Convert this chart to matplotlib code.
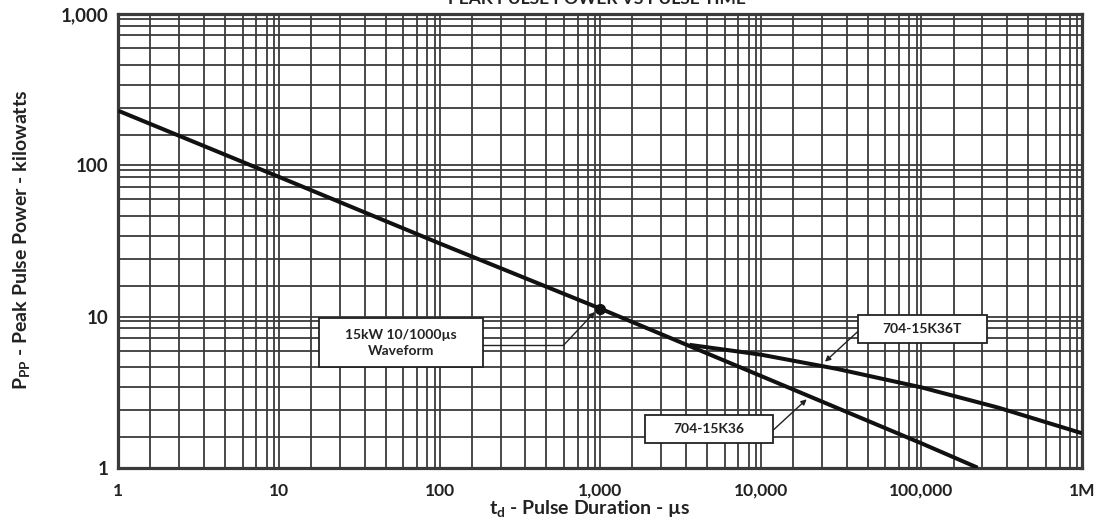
import numpy as np
import matplotlib
matplotlib.use("Agg")
import matplotlib.pyplot as plt
from matplotlib.patches import Rectangle

plt.rcParams['font.family'] = ['Lato', 'DejaVu Sans']
plt.rcParams['font.weight'] = 'bold'

# ---- data ----
x_main = [1, 10, 100, 1000, 10000, 100000, 224000]
y_main = [230, 84, 30.5, 11.3, 4.05, 1.45, 1.0]

x_t = [3600, 10000, 30000, 100000, 300000, 1000000]
y_t = [6.5, 5.6, 4.5, 3.4, 2.5, 1.69]

waveform_point = (1000, 11.3)

x_ticks = [1, 10, 100, 1000, 10000, 100000, 1000000]
x_ticklabels = ["1", "10", "100", "1,000", "10,000", "100,000", "1M"]
y_ticks = [1, 10, 100, 1000]
y_ticklabels = ["1", "10", "100", "1,000"]

# grid fractions within a decade (log units) as drawn on the reference paper
grid_frac = [0.2, 0.38, 0.535, 0.665, 0.775, 0.86, 0.925, 0.97]

W, H = 1096, 525
fig = plt.figure(figsize=(W / 100, H / 100), dpi=100)
ax_l, ax_r, ax_t, ax_b = 118.3, 1082.0, 14.3, 467.7
ax = fig.add_axes([ax_l / W, 1 - ax_b / H, (ax_r - ax_l) / W, (ax_b - ax_t) / H])
ax.set_xscale('log')
ax.set_yscale('log')
ax.set_xlim(1, 1e6)
ax.set_ylim(1, 1000)

gc = '#3a3a3a'
xminor = [10 ** (d + f) for d in range(6) for f in grid_frac]
yminor = [10 ** (d + f) for d in range(3) for f in grid_frac]
ax.set_xticks(x_ticks)
ax.set_xticklabels(x_ticklabels)
ax.set_yticks(y_ticks)
ax.set_yticklabels(y_ticklabels)
ax.set_xticks(xminor, minor=True)
ax.set_yticks(yminor, minor=True)
ax.tick_params(which='both', length=0)
ax.tick_params(axis='x', which='major', pad=11, labelsize=12.5)
ax.tick_params(axis='y', which='major', pad=7, labelsize=13.5)
for lab in ax.get_xticklabels() + ax.get_yticklabels():
    lab.set_fontweight('bold')
    lab.set_color('#222222')
ax.grid(True, which='both', color=gc, lw=1.3)
ax.set_axisbelow(True)
for s in ax.spines.values():
    s.set_color(gc)
    s.set_linewidth(2.3)

ax.plot(x_main, y_main, color='#111111', lw=2.9, solid_capstyle='butt', zorder=3, clip_on=True)
ax.plot(x_t, y_t, color='#111111', lw=2.9, solid_capstyle='butt', zorder=3, clip_on=True)
ax.plot([waveform_point[0]], [waveform_point[1]], 'o', color='#111111', ms=7, zorder=4)

# boxes (axes fraction)
def box(x0, y0, w, h, text, fs):
    ax.add_patch(Rectangle((x0, y0), w, h, transform=ax.transAxes, facecolor='white',
                           edgecolor='#222222', lw=1.3, zorder=5))
    ax.text(x0 + w / 2, y0 + h / 2, text, transform=ax.transAxes, ha='center', va='center',
            fontsize=fs, fontweight='bold', color='#222222', zorder=6, linespacing=1.4)

box(0.2086, 0.2214, 0.1702, 0.1081, "15kW 10/1000µs\nWaveform", 10)
box(0.7678, 0.2757, 0.1332, 0.0611, "704-15K36T", 10)
box(0.5465, 0.0538, 0.1331, 0.0624, "704-15K36", 10)

# leader lines
ax.plot([0.3786, 0.4618], [0.2696, 0.2696], transform=ax.transAxes, color='#222222', lw=1.0, zorder=5)
arrow_kw = dict(arrowstyle='-|>', color='#222222', lw=1.0, mutation_scale=8, shrinkA=0, shrinkB=0)
ax.annotate("", xy=(0.4945, 0.3434), xycoords='axes fraction', xytext=(0.4618, 0.2696),
            textcoords='axes fraction', arrowprops=arrow_kw, zorder=5)
ax.annotate("", xy=(0.7333, 0.2338), xycoords='axes fraction', xytext=(0.7672, 0.3000),
            textcoords='axes fraction', arrowprops=arrow_kw, zorder=5)
ax.annotate("", xy=(0.7143, 0.1509), xycoords='axes fraction', xytext=(0.6797, 0.0831),
            textcoords='axes fraction', arrowprops=arrow_kw, zorder=5)

# labels
fig.text(590 / W, 1 - 509 / H, r"t$_\mathregular{d}$ - Pulse Duration - µs", ha='center', va='center',
         fontsize=14, fontweight='bold', color='#222222')
fig.text(22 / W, 1 - 240 / H, r"P$_\mathregular{PP}$ - Peak Pulse Power - kilowatts", ha='center', va='center',
         rotation=90, fontsize=14, fontweight='bold', color='#222222')
fig.text(597 / W, 1 - 4 / H, "PEAK PULSE POWER VS PULSE TIME", ha='center', va='baseline',
         fontsize=12.5, fontweight='bold', color='#222222')

fig.savefig("out.png", dpi=100)
